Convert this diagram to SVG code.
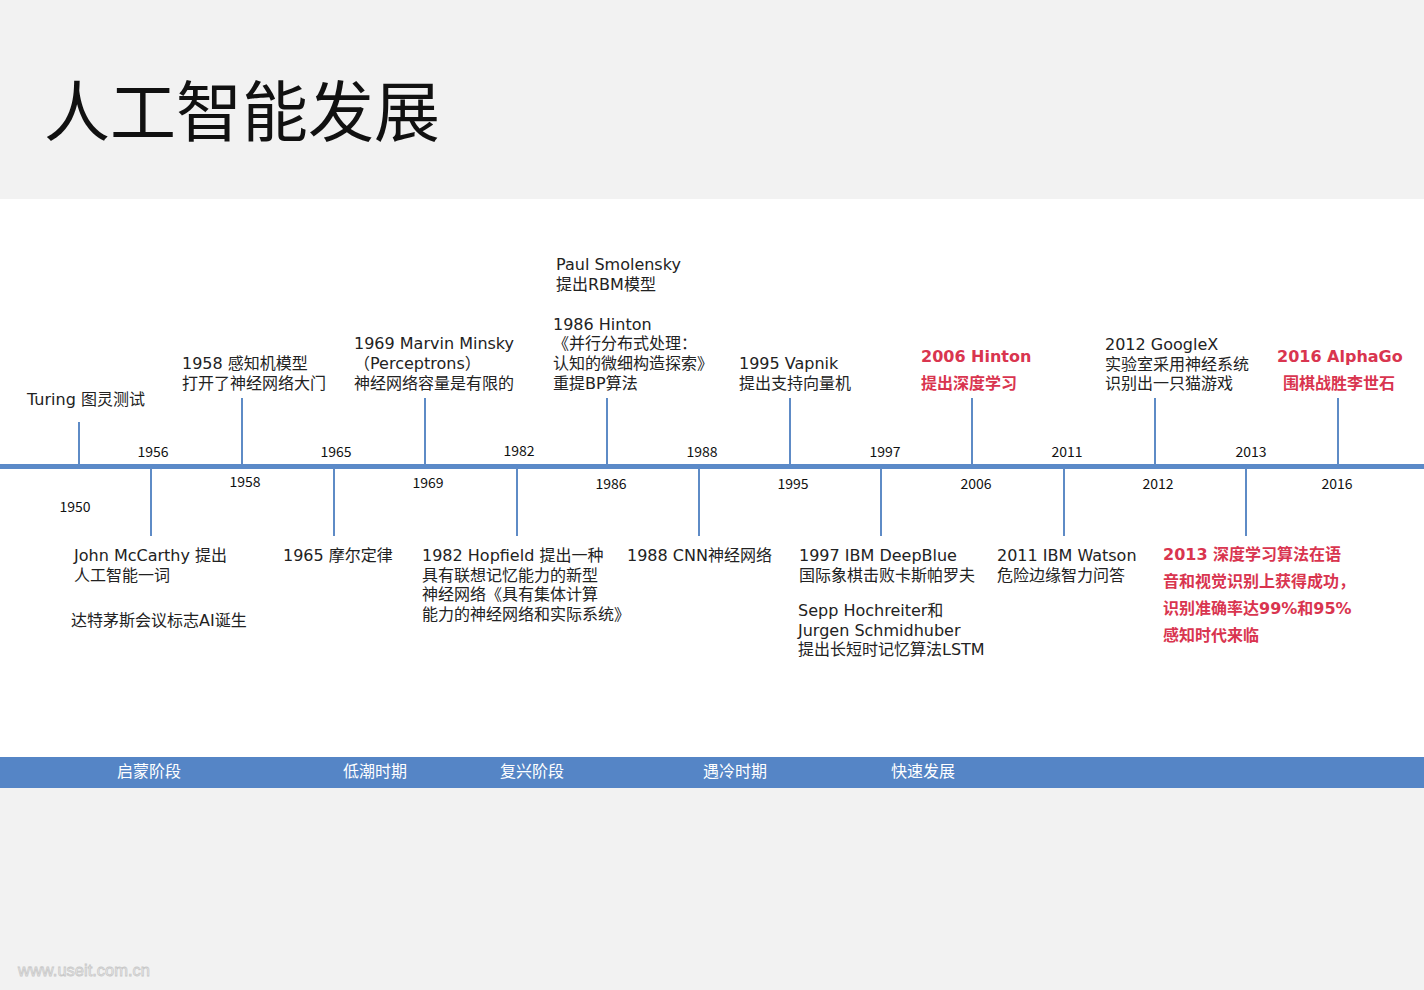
<svg xmlns="http://www.w3.org/2000/svg" width="1424" height="990" viewBox="0 0 1424 990">
<style>
.t{font-family:"DejaVu Sans","Noto Sans CJK SC",sans-serif;font-size:16px;fill:#222;}
.r{font-family:"DejaVu Sans","Noto Sans CJK SC",sans-serif;font-size:16px;font-weight:bold;fill:#d9354f;}
.y{font-family:"Noto Sans CJK SC","Noto Sans",sans-serif;font-size:14px;fill:#111;text-anchor:middle;}
.b{font-family:"Noto Sans CJK SC","Noto Sans",sans-serif;font-size:16px;fill:#fff;}
.tk{stroke:#5e8bc6;stroke-width:2;}
</style>
<rect x="0" y="0" width="1424" height="990" fill="#f2f2f2"/>
<rect x="0" y="199" width="1424" height="558" fill="#ffffff"/>
<text x="44" y="136" font-family="'Noto Sans CJK SC',sans-serif" font-size="66" fill="#111">人工智能发展</text>

<g id="connectors">
<rect x="0" y="464" width="1424" height="5" fill="#5b8ac8"/>
<line class="tk" x1="79" y1="422" x2="79" y2="465"/>
<line class="tk" x1="242" y1="398" x2="242" y2="465"/>
<line class="tk" x1="425" y1="398" x2="425" y2="465"/>
<line class="tk" x1="607" y1="398" x2="607" y2="465"/>
<line class="tk" x1="790" y1="398" x2="790" y2="465"/>
<line class="tk" x1="972" y1="398" x2="972" y2="465"/>
<line class="tk" x1="1155" y1="398" x2="1155" y2="465"/>
<line class="tk" x1="1338" y1="398" x2="1338" y2="465"/>
<line class="tk" x1="151" y1="468" x2="151" y2="536"/>
<line class="tk" x1="334" y1="468" x2="334" y2="536"/>
<line class="tk" x1="517" y1="468" x2="517" y2="536"/>
<line class="tk" x1="699" y1="468" x2="699" y2="536"/>
<line class="tk" x1="881" y1="468" x2="881" y2="536"/>
<line class="tk" x1="1064" y1="468" x2="1064" y2="536"/>
<line class="tk" x1="1246" y1="468" x2="1246" y2="536"/>
</g>

<g id="years">
<text class="y" x="75" y="512">1950</text>
<text class="y" x="153" y="457">1956</text>
<text class="y" x="245" y="487">1958</text>
<text class="y" x="336" y="457">1965</text>
<text class="y" x="428" y="488">1969</text>
<text class="y" x="519" y="456">1982</text>
<text class="y" x="611" y="489">1986</text>
<text class="y" x="702" y="457">1988</text>
<text class="y" x="793" y="489">1995</text>
<text class="y" x="885" y="457">1997</text>
<text class="y" x="976" y="489">2006</text>
<text class="y" x="1067" y="457">2011</text>
<text class="y" x="1158" y="489">2012</text>
<text class="y" x="1251" y="457">2013</text>
<text class="y" x="1337" y="489">2016</text>
</g>

<g id="n1950"><text class="t" x="27" y="405">Turing 图灵测试</text></g>
<g id="n1956">
<text class="t" x="74" y="561">John McCarthy 提出</text>
<text class="t" x="74" y="581">人工智能一词</text>
<text class="t" x="71" y="626">达特茅斯会议标志AI诞生</text>
</g>
<g id="n1958">
<text class="t" x="182" y="369">1958 感知机模型</text>
<text class="t" x="182" y="389">打开了神经网络大门</text>
</g>
<g id="n1965"><text class="t" x="283" y="561">1965 摩尔定律</text></g>
<g id="n1969">
<text class="t" x="354" y="349">1969 Marvin Minsky</text>
<text class="t" x="354" y="369">（Perceptrons）</text>
<text class="t" x="354" y="389">神经网络容量是有限的</text>
</g>
<g id="n1982">
<text class="t" x="422" y="561">1982 Hopfield 提出一种</text>
<text class="t" x="422" y="581">具有联想记忆能力的新型</text>
<text class="t" x="422" y="600">神经网络《具有集体计算</text>
<text class="t" x="422" y="620">能力的神经网络和实际系统》</text>
</g>
<g id="n1986">
<text class="t" x="556" y="270">Paul Smolensky</text>
<text class="t" x="556" y="290">提出RBM模型</text>
<text class="t" x="553" y="330">1986 Hinton</text>
<text class="t" x="553" y="349">《并行分布式处理：</text>
<text class="t" x="553" y="369">认知的微细构造探索》</text>
<text class="t" x="553" y="389">重提BP算法</text>
</g>
<g id="n1988"><text class="t" x="627" y="561">1988 CNN神经网络</text></g>
<g id="n1995">
<text class="t" x="739" y="369">1995 Vapnik</text>
<text class="t" x="739" y="389">提出支持向量机</text>
</g>
<g id="n1997">
<text class="t" x="799" y="561">1997 IBM DeepBlue</text>
<text class="t" x="799" y="581">国际象棋击败卡斯帕罗夫</text>
<text class="t" x="798" y="616">Sepp Hochreiter和</text>
<text class="t" x="798" y="636">Jurgen Schmidhuber</text>
<text class="t" x="798" y="655">提出长短时记忆算法LSTM</text>
</g>
<g id="n2006">
<text class="r" x="921" y="362">2006 Hinton</text>
<text class="r" x="921" y="389">提出深度学习</text>
</g>
<g id="n2011">
<text class="t" x="997" y="561">2011 IBM Watson</text>
<text class="t" x="997" y="581">危险边缘智力问答</text>
</g>
<g id="n2012">
<text class="t" x="1105" y="350">2012 GoogleX</text>
<text class="t" x="1105" y="370">实验室采用神经系统</text>
<text class="t" x="1105" y="389">识别出一只猫游戏</text>
</g>
<g id="n2013">
<text class="r" x="1163" y="560">2013 深度学习算法在语</text>
<text class="r" x="1163" y="587">音和视觉识别上获得成功，</text>
<text class="r" x="1163" y="614">识别准确率达99%和95%</text>
<text class="r" x="1163" y="641">感知时代来临</text>
</g>
<g id="n2016">
<text class="r" x="1277" y="362">2016 AlphaGo</text>
<text class="r" x="1283" y="389">围棋战胜李世石</text>
</g>

<g id="phases">
<rect x="0" y="757" width="1424" height="31" fill="#5585c6"/>
<text class="b" x="117" y="777">启蒙阶段</text>
<text class="b" x="343" y="777">低潮时期</text>
<text class="b" x="500" y="777">复兴阶段</text>
<text class="b" x="703" y="777">遇冷时期</text>
<text class="b" x="891" y="777">快速发展</text>
</g>
<text x="18" y="976" font-family="'Liberation Sans',sans-serif" font-size="16.5" fill="#f2f2f2" stroke="#c8c8c8" stroke-width="0.8">www.useit.com.cn</text>
</svg>
